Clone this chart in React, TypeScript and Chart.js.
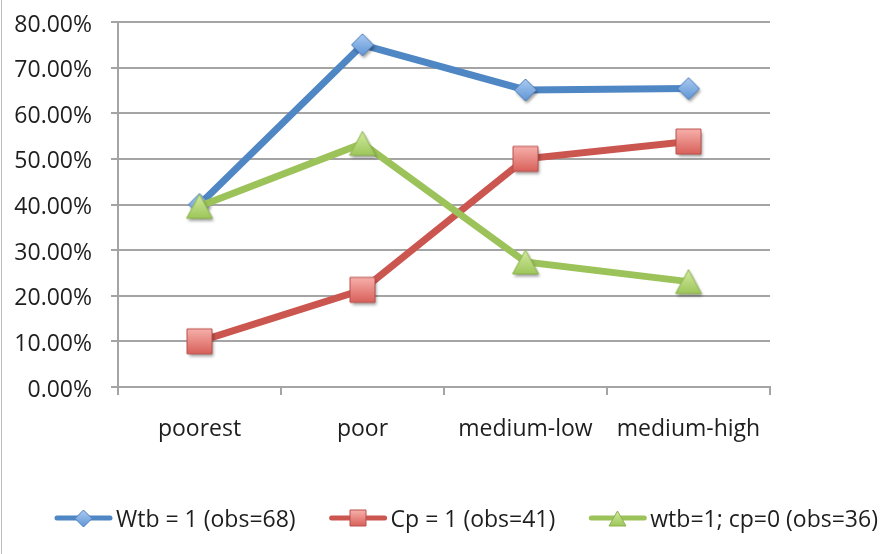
import React, { useEffect, useRef } from 'react';
import { Chart, registerables } from 'chart.js';

Chart.register(...registerables);

// Share of households per wealth group
const categories = ['poorest', 'poor', 'medium-low', 'medium-high'];
const wtbValues = [40.0, 75.0, 65.1, 65.4];
const cpValues = [10.0, 21.3, 50.0, 53.8];
const wtbNoCpValues = [39.6, 53.4, 27.4, 23.1];
const seriesNames = ['Wtb = 1 (obs=68)', 'Cp = 1 (obs=41)', 'wtb=1; cp=0 (obs=36)'];
const yMin = 0;
const yMax = 80;
const yStep = 10;

const FONT = '"Open Sans", "DejaVu Sans", sans-serif';
const TEXT = '#1e1e1e';
const GRID = '#a4a4a4';

type Shape = 'diamond' | 'square' | 'triangle';
interface Look {
  line: string;
  light: string;
  dark: string;
  edge: string;
  shape: Shape;
}

const looks: Look[] = [
  { line: '#4f86c4', light: '#abcaf0', dark: '#5f95d6', edge: '#4a7ebb', shape: 'diamond' },
  { line: '#cb5650', light: '#f7b0ab', dark: '#d9605a', edge: '#b9504c', shape: 'square' },
  { line: '#9cc25a', light: '#d4eba2', dark: '#9cc65a', edge: '#8cb14d', shape: 'triangle' },
];

// Builds a small bitmap marker (gradient fill, thin edge, soft drop shadow)
function makeMarker(look: Look, w: number, h: number, shadow: boolean): HTMLCanvasElement {
  const pad = 6;
  const c = document.createElement('canvas');
  c.width = Math.round(w + pad * 2);
  c.height = Math.round(h + pad * 2);
  const ctx = c.getContext('2d') as CanvasRenderingContext2D;
  const cx = c.width / 2;
  const cy = c.height / 2;
  const hw = w / 2;
  const hh = h / 2;
  const path = () => {
    ctx.beginPath();
    if (look.shape === 'diamond') {
      ctx.moveTo(cx, cy - hh);
      ctx.lineTo(cx + hw, cy);
      ctx.lineTo(cx, cy + hh);
      ctx.lineTo(cx - hw, cy);
    } else if (look.shape === 'square') {
      ctx.rect(cx - hw, cy - hh, w, h);
    } else {
      ctx.moveTo(cx, cy - hh);
      ctx.lineTo(cx + hw, cy + hh);
      ctx.lineTo(cx - hw, cy + hh);
    }
    ctx.closePath();
  };
  if (shadow) {
    ctx.save();
    ctx.shadowColor = 'rgba(0,0,0,0.38)';
    ctx.shadowBlur = 3;
    ctx.shadowOffsetX = 1.5;
    ctx.shadowOffsetY = 2.5;
    path();
    ctx.fillStyle = look.dark;
    ctx.fill();
    ctx.restore();
  }
  const g = ctx.createLinearGradient(0, cy - hh, 0, cy + hh);
  g.addColorStop(0, look.light);
  g.addColorStop(1, look.dark);
  path();
  ctx.fillStyle = g;
  ctx.fill();
  ctx.lineWidth = 1;
  ctx.strokeStyle = look.edge;
  ctx.stroke();
  return c;
}

const markerSize: Record<Shape, [number, number]> = {
  diamond: [22, 22],
  square: [25, 25],
  triangle: [26, 24],
};
const legendMarkerSize: Record<Shape, [number, number]> = {
  diamond: [17, 17],
  square: [16, 16],
  triangle: [17, 15],
};

export default function App() {
  const canvasRef = useRef<HTMLCanvasElement | null>(null);

  useEffect(() => {
    const canvas = canvasRef.current;
    if (!canvas) return;

    const pointImages = looks.map((l) => makeMarker(l, markerSize[l.shape][0], markerSize[l.shape][1], true));
    const legendImages = looks.map((l) =>
      makeMarker(l, legendMarkerSize[l.shape][0], legendMarkerSize[l.shape][1], false)
    );
    const values = [wtbValues, cpValues, wtbNoCpValues];

    const frame = {
      id: 'frame',
      beforeDraw(chart: Chart) {
        const ctx = chart.ctx;
        ctx.save();
        ctx.fillStyle = '#ffffff';
        ctx.fillRect(0, 0, chart.width, chart.height);
        ctx.fillStyle = '#bdbdbd';
        ctx.fillRect(1, 0, 1, chart.height);
        ctx.restore();
      },
    };

    // Line-and-marker legend row below the axis
    const legendRow = {
      id: 'legendRow',
      afterDraw(chart: Chart) {
        const ctx = chart.ctx;
        ctx.save();
        ctx.font = `23px ${FONT}`;
        ctx.textBaseline = 'middle';
        ctx.textAlign = 'left';
        const y = 518;
        let x = 55;
        seriesNames.forEach((name, i) => {
          const look = looks[i];
          ctx.strokeStyle = look.line;
          ctx.lineWidth = 5;
          ctx.lineCap = 'round';
          ctx.beginPath();
          ctx.moveTo(x + 2, y);
          ctx.lineTo(x + 55, y);
          ctx.stroke();
          const img = legendImages[i];
          ctx.drawImage(img, Math.round(x + 28 - img.width / 2), Math.round(y - img.height / 2));
          ctx.fillStyle = TEXT;
          ctx.fillText(name, x + 61, y + 2);
          x += 61 + ctx.measureText(name).width + 34;
        });
        ctx.restore();
      },
    };

    const chart = new Chart(canvas, {
      type: 'line',
      data: {
        labels: categories,
        datasets: values.map((v, i) => ({
          label: seriesNames[i],
          data: v,
          borderColor: looks[i].line,
          backgroundColor: looks[i].line,
          borderWidth: 7,
          tension: 0,
          fill: false,
          pointStyle: pointImages[i] as any,
          pointRadius: 10,
          pointHoverRadius: 10,
          order: 3 - i,
          clip: false as any,
        })),
      },
      options: {
        animation: false,
        responsive: false,
        devicePixelRatio: 1,
        layout: { padding: { left: 0, top: 22, right: 113, bottom: 0 } },
        plugins: {
          legend: { display: false },
          tooltip: { enabled: false },
          title: { display: false },
        },
        scales: {
          x: {
            type: 'category',
            offset: true,
            grid: {
              offset: true,
              drawOnChartArea: false,
              drawTicks: true,
              tickLength: 8,
              color: GRID,
              lineWidth: 2,
            },
            border: { display: true, color: GRID, width: 2 },
            ticks: {
              color: TEXT,
              font: { family: FONT, size: 23 },
              padding: 21,
              maxRotation: 0,
              autoSkip: false,
            },
            afterFit(scale: any) {
              scale.height = 167;
              scale.paddingLeft = 0;
              scale.paddingRight = 0;
            },
          },
          y: {
            min: yMin,
            max: yMax,
            grid: {
              color: GRID,
              lineWidth: 2,
              tickLength: 7,
              drawTicks: true,
            },
            border: { display: true, color: GRID, width: 2 },
            ticks: {
              stepSize: yStep,
              color: TEXT,
              font: { family: FONT, size: 23 },
              padding: 19,
              labelOffset: 3,
              callback: (v: any) => Number(v).toFixed(2) + '%',
            },
            afterFit(scale: any) {
              scale.width = 118;
              scale.paddingTop = 0;
              scale.paddingBottom = 0;
            },
          },
        },
      },
      plugins: [frame, legendRow],
    });

    return () => chart.destroy();
  }, []);

  return (
    <div style={{ position: 'absolute', left: 0, top: 0, width: 883, height: 554, background: '#fff' }}>
      <canvas ref={canvasRef} width={883} height={554} style={{ display: 'block', width: 883, height: 554 }} />
    </div>
  );
}
